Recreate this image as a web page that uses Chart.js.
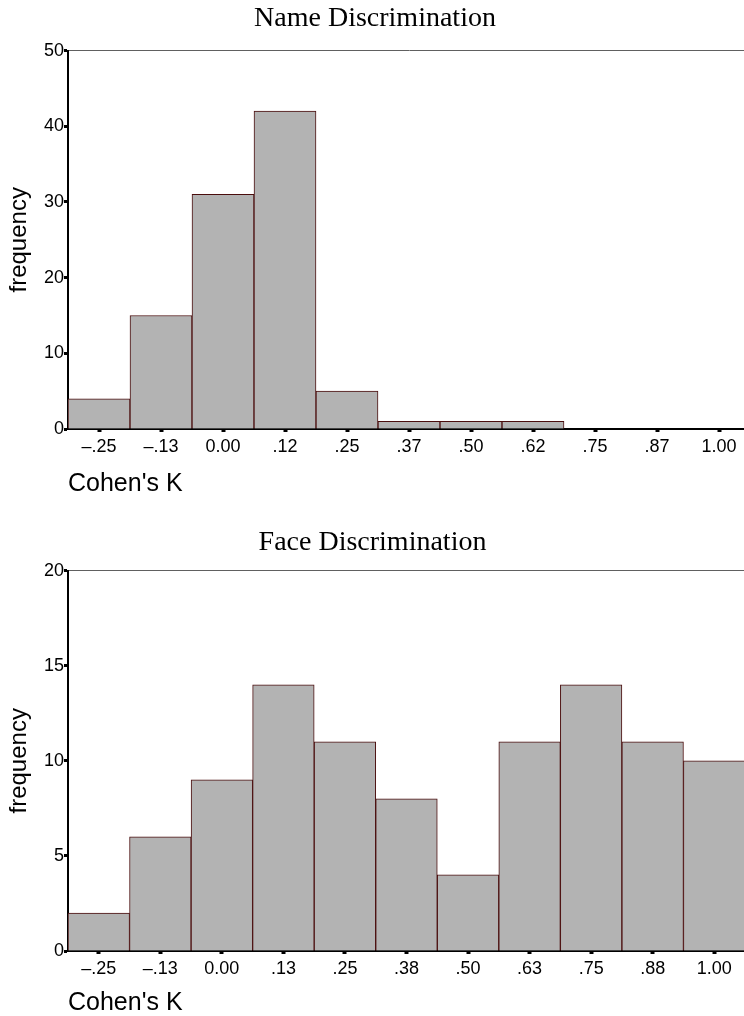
<!DOCTYPE html>
<html>
<head>
<meta charset="utf-8">
<script src="https://cdn.jsdelivr.net/npm/chart.js@4"></script>
<style>
  html, body { margin: 0; padding: 0; background: #fff; overflow: hidden; }
  canvas { position: absolute; left: 0; }
</style>
</head>
<body>
<canvas id="nameChart" width="750" height="510" style="top:0px"></canvas>
<canvas id="faceChart" width="745" height="492" style="top:524px"></canvas>
<script>
const nameLabels = ['\u2013.25', '\u2013.13', '0.00', '.12', '.25', '.37', '.50', '.62', '.75', '.87', '1.00'];
const nameCounts = [4, 15, 31, 42, 5, 1, 1, 1, 0, 0, 0];

const faceLabels = ['\u2013.25', '\u2013.13', '0.00', '.13', '.25', '.38', '.50', '.63', '.75', '.88', '1.00'];
const faceCounts = [2, 6, 9, 14, 11, 8, 4, 11, 14, 11, 10];

const sans = 'Liberation Sans, Arial, sans-serif';
const serif = 'Liberation Serif, Times New Roman, serif';

function histogram(id, title, labels, counts, yMax, yStep, xAxisHeight, titlePadBottom, xTitlePad) {
  const ctx = document.getElementById(id).getContext('2d');
  return new Chart(ctx, {
    type: 'bar',
    data: {
      labels,
      datasets: [{
        data: counts,
        backgroundColor: '#b3b3b3',
        borderColor: '#4a0d0d',
        borderWidth: 1,
        barPercentage: 1,
        categoryPercentage: 1
      }]
    },
    options: {
      responsive: false,
      animation: false,
      devicePixelRatio: 1,
      layout: { padding: 0 },
      plugins: {
        legend: { display: false },
        tooltip: { enabled: false },
        title: {
          display: true,
          text: title,
          color: '#000',
          font: { family: serif, size: 28, weight: 'normal', lineHeight: 1.2 },
          padding: { top: 2, bottom: titlePadBottom }
        }
      },
      scales: {
        x: {
          afterFit: s => { s.height = xAxisHeight; },
          grid: {
            display: true,
            drawOnChartArea: false,
            offset: false,
            tickLength: 3,
            tickWidth: 4,
            tickColor: '#000'
          },
          border: { display: true, color: '#000', width: 2 },
          ticks: {
            color: '#000',
            font: { family: sans, size: 18 },
            padding: 4,
            maxRotation: 0,
            autoSkip: false
          },
          title: {
            display: true,
            text: "Cohen's K",
            align: 'start',
            color: '#000',
            font: { family: sans, size: 25, lineHeight: 1 },
            padding: { top: 0, bottom: xTitlePad }
          }
        },
        y: {
          min: 0,
          max: yMax,
          afterFit: s => { s.width = 68; },
          grid: {
            drawOnChartArea: true,
            color: c => (c.tick && c.tick.value === yMax) ? '#606060' : 'rgba(0,0,0,0)',
            lineWidth: 1,
            tickLength: 4,
            tickWidth: 3,
            tickColor: '#000'
          },
          border: { display: true, color: '#000', width: 2 },
          ticks: {
            stepSize: yStep,
            color: '#000',
            font: { family: sans, size: 18 },
            padding: 0
          },
          title: {
            display: true,
            text: 'frequency',
            color: '#000',
            font: { family: sans, size: 24, lineHeight: 1 },
            padding: { top: 7, bottom: 0 }
          }
        }
      }
    }
  });
}

histogram('nameChart', 'Name Discrimination', nameLabels, nameCounts, 50, 10, 81, 15, 13);
histogram('faceChart', 'Face Discrimination', faceLabels, faceCounts, 20, 5, 65, 11, 0);
</script>
</body>
</html>
